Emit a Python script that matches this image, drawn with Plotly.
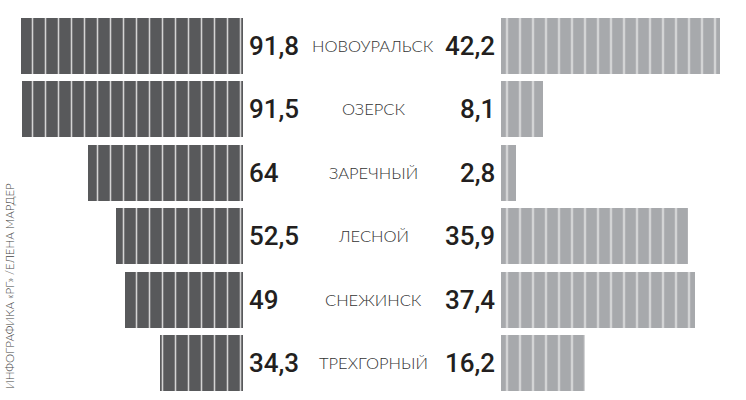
import plotly.graph_objects as go

# Data
cities = ["НОВОУРАЛЬСК", "ОЗЕРСК", "ЗАРЕЧНЫЙ", "ЛЕСНОЙ", "СНЕЖИНСК", "ТРЕХГОРНЫЙ"]
left_values = [91.8, 91.5, 64, 52.5, 49, 34.3]
right_values = [42.2, 8.1, 2.8, 35.9, 37.4, 16.2]
credit = "ИНФОГРАФИКА «РГ» /ЕЛЕНА МАРДЕР"

DARK = "#58595b"
LIGHT = "#a7a9ac"
W = 746


def fmt(v):
    return f"{v:g}".replace(".", ",")


rows = list(range(len(cities)))

fig = go.Figure()

fig.add_trace(go.Bar(
    x=left_values, y=rows, orientation="h", width=0.88,
    xaxis="x", yaxis="y",
    marker=dict(
        color=DARK, line=dict(width=0),
        pattern=dict(shape="|", fillmode="replace", bgcolor=DARK,
                     fgcolor="#d4d4d4", size=13, solidity=0.12),
    ),
    hoverinfo="skip",
))

fig.add_trace(go.Bar(
    x=right_values, y=rows, orientation="h", width=0.88,
    xaxis="x2", yaxis="y",
    marker=dict(
        color=LIGHT, line=dict(width=0),
        pattern=dict(shape="|", fillmode="replace", bgcolor=LIGHT,
                     fgcolor="#ececec", size=13, solidity=0.12),
    ),
    hoverinfo="skip",
))

annotations = []
for i, (city, lv, rv) in enumerate(zip(cities, left_values, right_values)):
    annotations.append(dict(
        x=247 / W, xref="paper", y=i, yref="y", xanchor="left", yanchor="middle",
        text=fmt(lv), showarrow=False,
        font=dict(family="Roboto", size=26, color="#231f20", weight=500),
    ))
    annotations.append(dict(
        x=497 / W, xref="paper", y=i, yref="y", xanchor="right", yanchor="middle",
        text=fmt(rv), showarrow=False,
        font=dict(family="Roboto", size=26, color="#231f20", weight=500),
    ))
    annotations.append(dict(
        x=373.5 / W, xref="paper", y=i, yref="y", xanchor="center", yanchor="middle",
        text=city, showarrow=False,
        font=dict(family="Lato", size=16.5, color="#333333", weight=300),
    ))

annotations.append(dict(
    x=9.5 / W, xref="paper", y=1 - 286.5 / 400, yref="paper",
    xanchor="center", yanchor="middle", textangle=-90,
    text=credit, showarrow=False,
    font=dict(family="Lato", size=11.5, color="#444444", weight=300),
))

fig.update_layout(
    width=W, height=400,
    margin=dict(l=0, r=0, t=0, b=0),
    plot_bgcolor="white", paper_bgcolor="white",
    showlegend=False,
    bargap=0,
    xaxis=dict(domain=[0, 243 / W], range=[100.6, 0], visible=False, fixedrange=True),
    xaxis2=dict(domain=[500.5 / W, 1], range=[0, 245.5 / 5.2], anchor="y",
                visible=False, fixedrange=True),
    yaxis=dict(range=[5.58, -0.72], visible=False, fixedrange=True),
    annotations=annotations,
)

fig.write_html("out.html", config={"displayModeBar": False},
               post_script="document.body.style.margin='0';")
